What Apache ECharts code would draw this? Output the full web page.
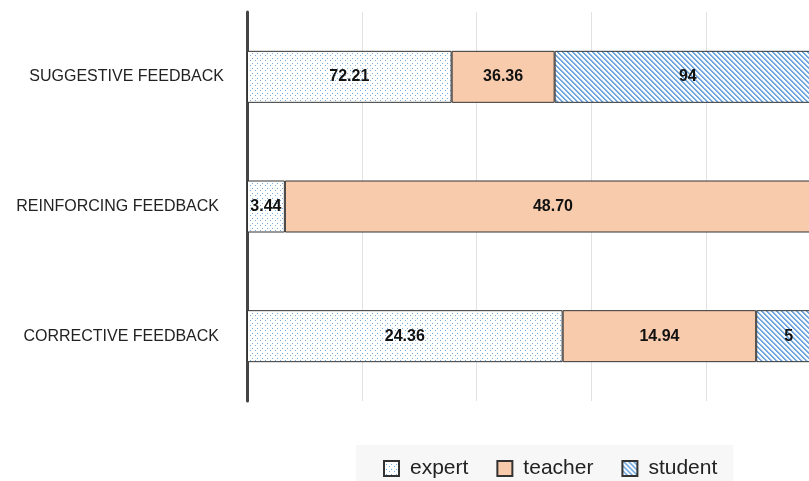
<!DOCTYPE html>
<html>
<head>
<meta charset="utf-8">
<script src="https://cdn.jsdelivr.net/npm/echarts@6/dist/echarts.min.js"></script>
<style>
  html, body { margin: 0; padding: 0; background: #ffffff; overflow: hidden; }
  #chart { width: 830px; height: 481px; }
</style>
</head>
<body>
<div id="chart"></div>
<script>
// Feedback types (bottom to top) and the raw counts per source
const categories = ['CORRECTIVE FEEDBACK', 'REINFORCING FEEDBACK', 'SUGGESTIVE FEEDBACK'];
const expert  = [24.36, 3.44, 72.21];
const teacher = [14.94, 48.70, 36.36];
const student = [5, 0, 94];
// Decimal places used when printing each source's values
const expertDecimals = 2;
const teacherDecimals = 2;
const studentDecimals = 0;
// Percentage axis ticks
const xTicks = [0, 20, 40, 60, 80, 100];

// Fill patterns
function dotPattern() {
  const c = document.createElement('canvas');
  c.width = 5; c.height = 5;
  const g = c.getContext('2d');
  g.fillStyle = '#ffffff';
  g.fillRect(0, 0, 5, 5);
  g.fillStyle = '#79ade2';
  g.fillRect(0, 0, 1, 1);
  g.fillRect(2, 3, 1, 1);
  return c;
}
function hatchPattern() {
  const n = 5;
  const c = document.createElement('canvas');
  c.width = n; c.height = n;
  const g = c.getContext('2d');
  for (let y = 0; y < n; y++) {
    for (let x = 0; x < n; x++) {
      const k = ((x - y) % n + n) % n;
      g.fillStyle = k < 2 ? '#6fa7de' : (k === 2 ? '#d6e6f6' : '#ffffff');
      g.fillRect(x, y, 1, 1);
    }
  }
  return c;
}

const totals = categories.map((_, i) => expert[i] + teacher[i] + student[i]);
const share = (arr) => arr.map((v, i) => ({ value: v / totals[i] * 100, raw: v }));

function makeSeries(name, values, decimals, color) {
  return {
    name: name,
    type: 'bar',
    stack: 'all',
    barWidth: 52,
    data: share(values),
    itemStyle: { color: color, borderColor: '#333333', borderWidth: 1 },
    label: {
      show: true,
      position: 'inside',
      color: '#111111',
      fontFamily: 'Liberation Sans, Arial, sans-serif',
      fontWeight: 'bold',
      fontSize: 16,
      formatter: (p) => p.data.raw > 0 ? p.data.raw.toFixed(decimals) : ''
    },
    emphasis: { disabled: true }
  };
}

const chart = echarts.init(document.getElementById('chart'), null, { renderer: 'canvas' });
chart.setOption({
  animation: false,
  backgroundColor: '#ffffff',
  grid: { left: 247, top: 12, width: 574, height: 389, containLabel: false },
  xAxis: {
    type: 'value',
    min: xTicks[0],
    max: xTicks[xTicks.length - 1],
    interval: xTicks[1] - xTicks[0],
    axisLine: { show: false },
    axisTick: { show: false },
    axisLabel: { show: false },
    splitLine: { show: true, lineStyle: { color: '#e2e2e2', width: 1 } }
  },
  yAxis: {
    type: 'category',
    data: categories.map((c, i) => ({
      value: c,
      textStyle: { padding: i === 2 ? [0, 0, 0, 0] : [0, 5, 0, 0] }
    })),
    axisLine: { show: true, lineStyle: { color: '#444444', width: 3 } },
    axisTick: { show: false },
    axisLabel: {
      margin: 23,
      color: '#222222',
      fontFamily: 'Liberation Sans, Arial, sans-serif',
      fontSize: 16
    }
  },
  legend: {
    left: 356,
    top: 445,
    backgroundColor: '#f7f7f7',
    padding: [13, 16, 14, 27],
    itemWidth: 15,
    itemHeight: 15,
    itemGap: 28,
    icon: 'rect',
    textStyle: {
      color: '#222222',
      fontFamily: 'Liberation Sans, Arial, sans-serif',
      fontSize: 21,
      padding: [0, 0, 0, 6]
    },
    data: ['expert', 'teacher', 'student']
  },
  series: [
    makeSeries('expert', expert, expertDecimals, { image: dotPattern(), repeat: 'repeat' }),
    makeSeries('teacher', teacher, teacherDecimals, '#f8cbad'),
    makeSeries('student', student, studentDecimals, { image: hatchPattern(), repeat: 'repeat' })
  ]
});
</script>
</body>
</html>
